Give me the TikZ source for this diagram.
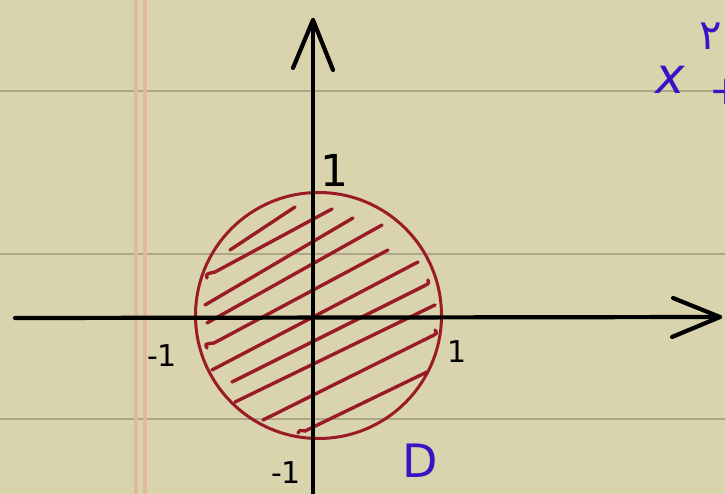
\documentclass[tikz,border=0pt]{standalone}
\usepackage{fontspec}
\setmainfont{DejaVu Sans}
\newfontfamily\persdig{DejaVu Sans}
\definecolor{paper}{HTML}{D9D4AE}
\definecolor{rule}{HTML}{ADA787}
\definecolor{margin}{HTML}{E0B89C}
\definecolor{disk}{HTML}{9A1A26}
\definecolor{ink}{HTML}{3A14C4}
\tikzset{
  ruleline/.style={rule, line width=2.4pt},
  marginline/.style={margin, line width=3.5pt},
  axis/.style={black, line width=4.2pt, line cap=round, line join=round},
  hatchline/.style={disk, line width=3.4pt, line cap=round},
  lbl/.style={black, inner sep=0pt, font=\fontsize{30}{30}\selectfont},
  bluelbl/.style={ink, inner sep=0pt}
}
\begin{document}
\begin{tikzpicture}[x=1pt,y=-1pt]
\useasboundingbox (0,0) rectangle (725,494);
\clip (0,0) rectangle (725,494);
\fill[paper] (0,0) rectangle (725,494);
% ruled lines
\draw[ruleline] (0,91) -- (725,91);
\draw[ruleline] (0,254) -- (725,254);
\draw[ruleline] (0,419) -- (725,419);
% margin
\draw[marginline] (136,0) -- (136,494);
\draw[marginline] (145,0) -- (145,494);
% hatching
\draw[hatchline] (230,250) -- (295,207);
\draw[hatchline] (207,278) .. controls (206,274) .. (215,272) -- (332,209);
\draw[hatchline] (205,305) -- (353,218);
\draw[hatchline] (207,323) -- (382,225);
\draw[hatchline] (207,348) .. controls (205,344) .. (214,343) -- (388,250);
\draw[hatchline] (212,370) -- (418,262);
\draw[hatchline] (232,382) -- (426,285) .. controls (429,283) .. (428,280);
\draw[hatchline] (235,402) -- (435,305);
\draw[hatchline] (263,420) -- (434,335) .. controls (437,333) .. (435,330);
\draw[hatchline] (298,433) .. controls (300,430) .. (305,431) -- (427,372);
% circle
\draw[disk, line width=3pt] (318.5,315.5) circle (123);
% axes
\coordinate (xs) at (15,318);
\coordinate (xe) at (720,317);
\coordinate (ys) at (313,494);
\coordinate (ye) at (313,20);
\draw[axis] (xs) -- (xe);
\draw[axis] (673,298) -- (xe) -- (672,337);
\draw[axis] (ys) -- (ye);
\draw[axis] (293,68) -- (ye) -- (333,70);
% labels
\node[lbl, font=\fontsize{44}{44}\selectfont] (ytop) at (334,170) {1};
\node[lbl] (xleft) at (162,356) {-1};
\node[lbl] (xright) at (457,352) {1};
\node[lbl] (ybot) at (286,473) {-1};
\node[bluelbl, font=\fontsize{46}{46}\selectfont] (dom) at (420,461) {D};
\node[bluelbl, font=\itshape\fontsize{50}{50}\selectfont] (xv) at (670,80) {x};
\node[bluelbl, font=\persdig\fontsize{42}{42}\selectfont] (sq) at (711,36) {۲};
\node[bluelbl, font=\fontsize{40}{40}\selectfont, anchor=west] (pl) at (709,92) {+};
\end{tikzpicture}
\end{document}
